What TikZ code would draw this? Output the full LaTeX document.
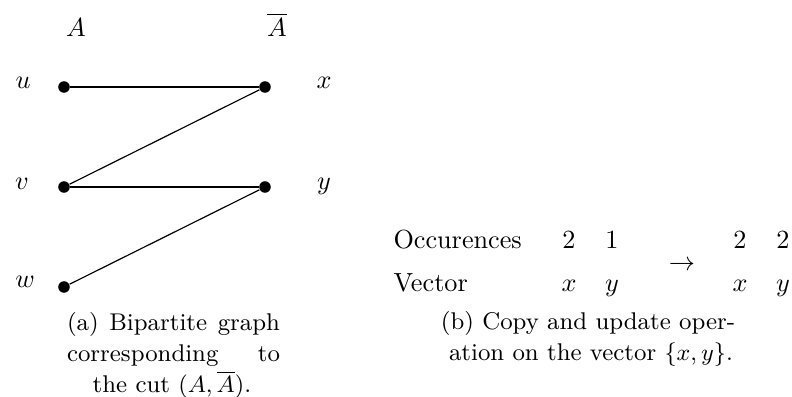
\documentclass[tikz,border=0pt]{standalone}
\begin{document}
\begin{tikzpicture}[x=0.3817pt,y=-0.3817pt,
  vtx/.style={circle,fill=black,inner sep=0pt,minimum size=4.4pt},
  lbl/.style={inner sep=0pt,anchor=base},
  txt/.style={inner sep=0pt,anchor=base west},
  captxt/.style={inner sep=0pt,anchor=base,font=\fontsize{9.23pt}{11pt}\selectfont},
  edge/.style={line width=0.45pt}]
\useasboundingbox (0,0) rectangle (792,397);
% graph
\node[vtx] (u) at (64,87) {};
\node[vtx] (x) at (265,87) {};
\node[vtx] (v) at (64,187) {};
\node[vtx] (y) at (265,187) {};
\node[vtx] (w) at (64,287) {};
\node[lbl] (lA) at (76,36) {$A$};
\node[lbl] (lAb) at (277,36) {$\overline{A}$};
\node[lbl] (lu) at (23,88) {$u$};
\node[lbl] (lv) at (22,189) {$v$};
\node[lbl] (lw) at (25,287) {$w$};
\node[lbl] (lx) at (324,88) {$x$};
\node[lbl] (ly) at (324,189) {$y$};
\draw[edge] (u) -- (x);
\draw[edge] (x) -- (v);
\draw[edge] (v) -- (y);
\draw[edge] (y) -- (w);
% caption a
\node[captxt] (ca1) at (173.5,330) {\hbox to 81.3pt{(a)\hfill Bipartite\hfill graph}};
\node[captxt] (ca2) at (173.5,361) {\hbox to 81.3pt{corresponding\hfill to}};
\node[captxt] (ca3) at (172,392) {the cut $(A,\overline{A})$.};
% table
\node[txt] (occ) at (393,248) {Occurences};
\node[txt] (vec) at (393,291) {Vector};
\node[lbl] (n1) at (569,248) {2};
\node[lbl] (n2) at (612,248) {1};
\node[lbl] (n3) at (740,248) {2};
\node[lbl] (n4) at (783,248) {2};
\node[lbl] (m1) at (569,291) {$x$};
\node[lbl] (m2) at (612,291) {$y$};
\node[lbl] (m3) at (740,291) {$x$};
\node[lbl] (m4) at (783,291) {$y$};
\node[lbl] (arr) at (682,270) {$\rightarrow$};
% caption b
\node[captxt] (cb1) at (588,329) {(b) Copy and update oper-};
\node[captxt] (cb2) at (591,360) {ation on the vector $\{x,y\}$.};
\end{tikzpicture}
\end{document}
